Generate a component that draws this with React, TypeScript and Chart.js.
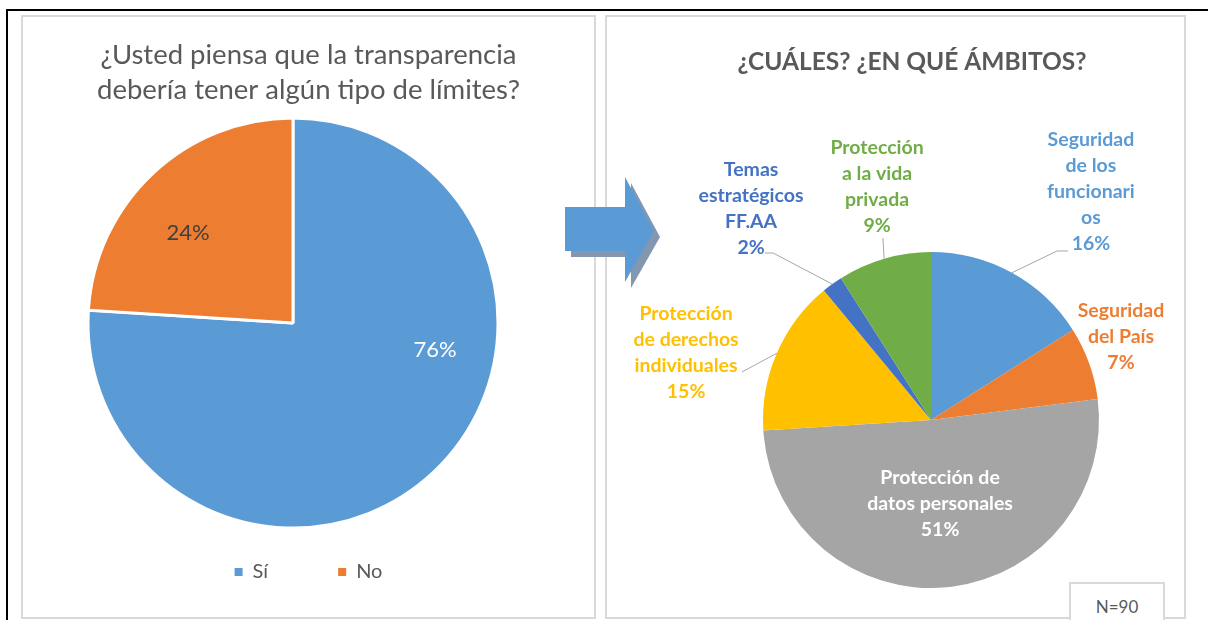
import React, { useEffect, useRef } from "react";
import { Chart, registerables } from "chart.js";

Chart.register(...registerables);

// ---------- Data ----------
const Q1_TITLE = ["¿Usted piensa que la transparencia", "debería tener algún tipo de límites?"];
const Q1_CATEGORIES = ["Sí", "No"];
const Q1_VALUES = [76, 24];
const Q1_COLORS = ["#5B9BD5", "#ED7D31"];

const Q2_TITLE = "¿CUÁLES? ¿EN QUÉ ÁMBITOS?";
const Q2_CATEGORIES = [
  "Seguridad de los funcionarios",
  "Seguridad del País",
  "Protección de datos personales",
  "Protección de derechos individuales",
  "Temas estratégicos FF.AA",
  "Protección a la vida privada",
];
const Q2_VALUES = [16, 7, 51, 15, 2, 9];
const Q2_COLORS = ["#5B9BD5", "#ED7D31", "#A5A5A5", "#FFC000", "#4472C4", "#70AD47"];
const Q2_NOTE = "N=90";

// ---------- Label layout (style) ----------
// how each category name wraps in its data label
const Q2_LABEL_LINES = [
  ["Seguridad", "de los", "funcionari", "os"],
  ["Seguridad", "del País"],
  ["Protección de", "datos personales"],
  ["Protección", "de derechos", "individuales"],
  ["Temas", "estratégicos", "FF.AA"],
  ["Protección", "a la vida", "privada"],
];
const Q2_LABEL_COLORS = ["#5B9BD5", "#ED7D31", "#FFFFFF", "#FFC000", "#4472C4", "#70AD47"];
// label centre, relative to pie centre, in units of the radius
const Q2_LABEL_POS: [number, number][] = [
  [0.952, -1.36],
  [1.131, -0.497],
  [0.054, 0.497],
  [-1.458, -0.399],
  [-1.071, -1.256],
  [-0.321, -1.39],
];
// leader line points after the slice edge, radius units
const Q2_LEADERS: [number, number][][] = [
  [[0.75, -1.006], [0.815, -1.006]],
  [],
  [],
  [[-1.125, -0.286]],
  [[-0.94, -0.994], [-0.988, -0.994]],
  [[-0.286, -1.083]],
];
const Q1_LABEL_COLORS = ["#FFFFFF", "#404040"];
const Q1_LABEL_POS: [number, number][] = [
  [0.693, 0.132],
  [-0.512, -0.439],
];

const FONT = "Lato, 'Open Sans', sans-serif";
Chart.defaults.font.family = FONT;

const pieShift = {
  id: "pieShift",
  afterLayout(chart: any, _args: any, opts: any) {
    const dx = (opts && opts.dx) || 0;
    chart.chartArea.left += dx;
    chart.chartArea.right += dx;
  },
};

const sliceLabels = {
  id: "sliceLabels",
  afterDatasetsDraw(chart: any, _args: any, opts: any) {
    const meta = chart.getDatasetMeta(0);
    const data = chart.data.datasets[0].data as number[];
    const ctx = chart.ctx as CanvasRenderingContext2D;
    ctx.save();
    meta.data.forEach((arc: any, i: number) => {
      const p = arc.getProps(["x", "y", "outerRadius", "startAngle", "endAngle"], true);
      const r = p.outerRadius;
      const mid = (p.startAngle + p.endAngle) / 2;
      const leader = (opts.leaders && opts.leaders[i]) || [];
      if (leader.length) {
        ctx.beginPath();
        ctx.strokeStyle = opts.leaderColor || "#A6A6A6";
        ctx.lineWidth = 1;
        ctx.moveTo(p.x + Math.cos(mid) * r, p.y + Math.sin(mid) * r);
        leader.forEach(([lx, ly]: [number, number]) => ctx.lineTo(p.x + lx * r, p.y + ly * r));
        ctx.stroke();
      }
      const lines = [...((opts.lines && opts.lines[i]) || []), `${data[i]}%`];
      const [px, py] = opts.positions[i];
      const cx = p.x + px * r;
      const cy = p.y + py * r;
      ctx.font = opts.font;
      ctx.fillStyle = opts.colors[i];
      ctx.textAlign = "center";
      ctx.textBaseline = "middle";
      lines.forEach((t: string, k: number) => {
        ctx.fillText(t, cx, cy + (k - (lines.length - 1) / 2) * opts.lineHeight);
      });
    });
    ctx.restore();
  },
};

export default function App() {
  const leftRef = useRef<HTMLCanvasElement>(null);
  const rightRef = useRef<HTMLCanvasElement>(null);

  useEffect(() => {
    const baseLegend = (Chart as any).overrides.doughnut.plugins.legend.labels.generateLabels;
    const left = new Chart(leftRef.current!, {
      type: "pie",
      data: {
        labels: Q1_CATEGORIES,
        datasets: [
          {
            data: Q1_VALUES,
            backgroundColor: Q1_COLORS,
            borderColor: "#FFFFFF",
            borderWidth: 3,
            radius: 205,
            clip: false,
          } as any,
        ],
      },
      options: {
        responsive: false,
        animation: false,
        events: [],
        layout: { padding: { bottom: 25 } },
        plugins: {
          title: {
            display: true,
            text: Q1_TITLE,
            color: "#595959",
            font: { size: 27.5, weight: "normal", family: FONT, lineHeight: 35 / 27.5 },
            padding: { top: 20.5, bottom: 46.5 },
          },
          legend: {
            display: true,
            position: "bottom",
            labels: {
              color: "#595959",
              font: { size: 20, family: FONT },
              boxWidth: 8,
              boxHeight: 8,
              padding: 70,
              generateLabels: (c: any) =>
                baseLegend(c).map((l: any) => ({ ...l, lineWidth: 0, strokeStyle: "rgba(0,0,0,0)" })),
            },
          },
          tooltip: { enabled: false },
          pieShift: { dx: -15.5 },
          sliceLabels: {
            positions: Q1_LABEL_POS,
            colors: Q1_LABEL_COLORS,
            font: `22px ${FONT}`,
            lineHeight: 26,
          },
        } as any,
      },
      plugins: [pieShift, sliceLabels],
    });

    const right = new Chart(rightRef.current!, {
      type: "pie",
      data: {
        labels: Q2_CATEGORIES,
        datasets: [
          {
            data: Q2_VALUES,
            backgroundColor: Q2_COLORS,
            borderWidth: 0,
            radius: 168,
            clip: false,
          } as any,
        ],
      },
      options: {
        responsive: false,
        animation: false,
        events: [],
        layout: { padding: { left: 33 } },
        plugins: {
          title: {
            display: true,
            text: Q2_TITLE,
            color: "#595959",
            font: { size: 24.5, weight: "bold", family: FONT, lineHeight: 1.2 },
            padding: { top: 30.3, bottom: 146.3 },
          },
          legend: { display: false },
          tooltip: { enabled: false },
          pieShift: { dx: 19 },
          sliceLabels: {
            lines: Q2_LABEL_LINES,
            positions: Q2_LABEL_POS,
            leaders: Q2_LEADERS,
            colors: Q2_LABEL_COLORS,
            leaderColor: "#A6A6A6",
            font: `bold 19.5px ${FONT}`,
            lineHeight: 26,
          },
        } as any,
      },
      plugins: [pieShift, sliceLabels],
    });

    return () => {
      left.destroy();
      right.destroy();
    };
  }, []);

  return (
    <div
      style={{
        position: "absolute",
        left: 0,
        top: 0,
        width: 1208,
        height: 620,
        overflow: "hidden",
        background: "#FFFFFF",
        fontFamily: FONT,
      }}
    >
      {/* outer black frame */}
      <div
        style={{
          position: "absolute",
          left: 6,
          top: 9,
          width: 1210,
          height: 620,
          borderTop: "2px solid #000",
          borderLeft: "2px solid #000",
        }}
      />
      {/* left panel */}
      <div
        style={{
          position: "absolute",
          left: 21,
          top: 15,
          width: 571,
          height: 600,
          border: "2px solid #D9D9D9",
        }}
      >
        <canvas ref={leftRef} width={571} height={600} style={{ display: "block" }} />
      </div>
      {/* right panel */}
      <div
        style={{
          position: "absolute",
          left: 605,
          top: 15,
          width: 577,
          height: 600,
          border: "2px solid #D9D9D9",
        }}
      >
        <canvas ref={rightRef} width={577} height={600} style={{ display: "block" }} />
        <div
          style={{
            position: "absolute",
            left: 462,
            top: 565,
            width: 96,
            height: 50,
            border: "2px solid #D9D9D9",
            background: "#FFFFFF",
            color: "#595959",
            fontSize: 17,
            textAlign: "center",
            lineHeight: "20px",
            paddingTop: 13,
            boxSizing: "border-box",
          }}
        >
          {Q2_NOTE}
        </div>
      </div>
      {/* arrow */}
      <svg
        style={{ position: "absolute", left: 560, top: 170, overflow: "visible" }}
        width={100}
        height={120}
      >
        <polygon
          points="8,40 68,40 68,10 97,64 68,115 68,84 8,84"
          fill="#8497B0"
          transform="translate(3,3)"
        />
        <polygon points="5,37 65,37 65,7 94,61 65,112 65,81 5,81" fill="#5B9BD5" />
      </svg>
    </div>
  );
}
